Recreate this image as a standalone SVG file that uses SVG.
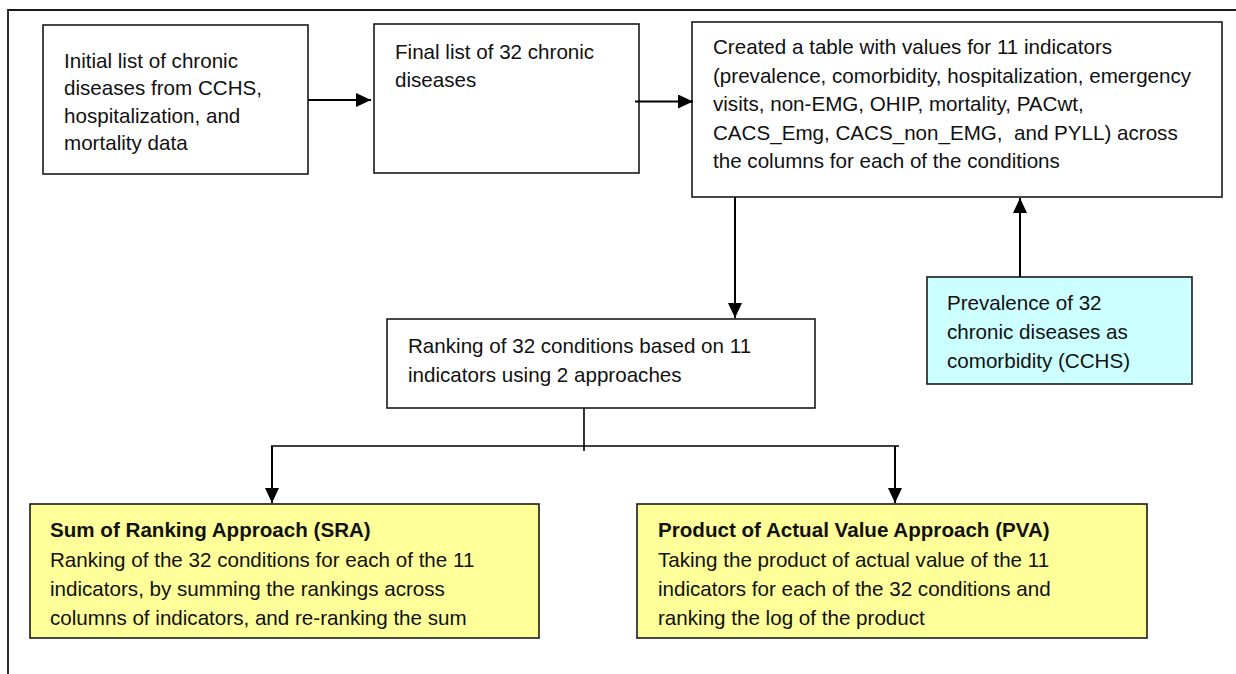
<svg xmlns="http://www.w3.org/2000/svg" width="1236" height="674" viewBox="0 0 1236 674">
  <style>
    text { font-family: "Liberation Sans", Arial, sans-serif; font-size: 20.6px; fill: #111; white-space: pre; }
    .b { font-weight: bold; }
    .box { fill: #fff; stroke: #1a1a1a; stroke-width: 1.6; }
    .yel { fill: #ffff99; stroke: #1a1a1a; stroke-width: 1.6; }
    .cyan { fill: #ccffff; stroke: #1a1a1a; stroke-width: 1.6; }
    .conn { fill: none; stroke: #000; stroke-width: 2; }
    .thin { fill: none; stroke: #000; stroke-width: 1.6; }
    .frame { fill: none; stroke: #1a1a1a; stroke-width: 1.8; }
  </style>
  <defs>
    <marker id="ah" markerUnits="userSpaceOnUse" markerWidth="16" markerHeight="14" refX="15" refY="7" orient="auto">
      <path d="M0,0 L15,7 L0,14 z" fill="#000"/>
    </marker>
  </defs>

  <rect width="1236" height="674" fill="#fff"/>
  <path class="frame" d="M1236,10 H8 V674"/>

  <g id="node-initial">
    <rect class="box" x="43" y="25" width="265" height="149"/>
    <text x="64" y="67.5">Initial list of chronic</text>
    <text x="64" y="95">diseases from CCHS,</text>
    <text x="64" y="122.5">hospitalization, and</text>
    <text x="64" y="150">mortality data</text>
  </g>

  <g id="node-final">
    <rect class="box" x="374" y="24" width="265" height="149"/>
    <text x="395" y="58.5">Final list of 32 chronic</text>
    <text x="395" y="87">diseases</text>
  </g>

  <g id="node-table">
    <rect class="box" x="692" y="22" width="530" height="175"/>
    <text x="713" y="54">Created a table with values for 11 indicators</text>
    <text x="713" y="82.5">(prevalence, comorbidity, hospitalization, emergency</text>
    <text x="713" y="111">visits, non-EMG, OHIP, mortality, PACwt,</text>
    <text x="713" y="139.5">CACS_Emg, CACS_non_EMG,  and PYLL) across</text>
    <text x="713" y="168">the columns for each of the conditions</text>
  </g>

  <g id="node-prevalence">
    <rect class="cyan" x="927" y="277" width="265" height="107"/>
    <text x="947" y="310">Prevalence of 32</text>
    <text x="947" y="339">chronic diseases as</text>
    <text x="947" y="368">comorbidity (CCHS)</text>
  </g>

  <g id="node-ranking">
    <rect class="box" x="387" y="319" width="428" height="89"/>
    <text x="408" y="352.5">Ranking of 32 conditions based on 11</text>
    <text x="408" y="381.5">indicators using 2 approaches</text>
  </g>

  <g id="node-sra">
    <rect class="yel" x="30" y="504" width="509" height="134"/>
    <text class="b" x="50" y="537">Sum of Ranking Approach (SRA)</text>
    <text x="50" y="566.5">Ranking of the 32 conditions for each of the 11</text>
    <text x="50" y="595.5">indicators, by summing the rankings across</text>
    <text x="50" y="624.5">columns of indicators, and re-ranking the sum</text>
  </g>

  <g id="node-pva">
    <rect class="yel" x="637" y="504" width="510" height="134"/>
    <text class="b" x="658" y="537">Product of Actual Value Approach (PVA)</text>
    <text x="658" y="566.5">Taking the product of actual value of the 11</text>
    <text x="658" y="595.5">indicators for each of the 32 conditions and</text>
    <text x="658" y="624.5">ranking the log of the product</text>
  </g>

  <g id="connectors">
    <line class="conn" x1="308" y1="100" x2="371" y2="100" marker-end="url(#ah)"/>
    <line class="conn" x1="635" y1="101.5" x2="693" y2="101.5" marker-end="url(#ah)"/>
    <line class="conn" x1="735" y1="197" x2="735" y2="318" marker-end="url(#ah)"/>
    <line class="conn" x1="1020" y1="277" x2="1020" y2="198" marker-end="url(#ah)"/>
    <line class="thin" x1="584" y1="408" x2="584" y2="451"/>
    <line class="thin" x1="271" y1="446" x2="899" y2="446"/>
    <line class="conn" x1="272" y1="446" x2="272" y2="503" marker-end="url(#ah)"/>
    <line class="conn" x1="895" y1="446" x2="895" y2="503" marker-end="url(#ah)"/>
  </g>
</svg>
